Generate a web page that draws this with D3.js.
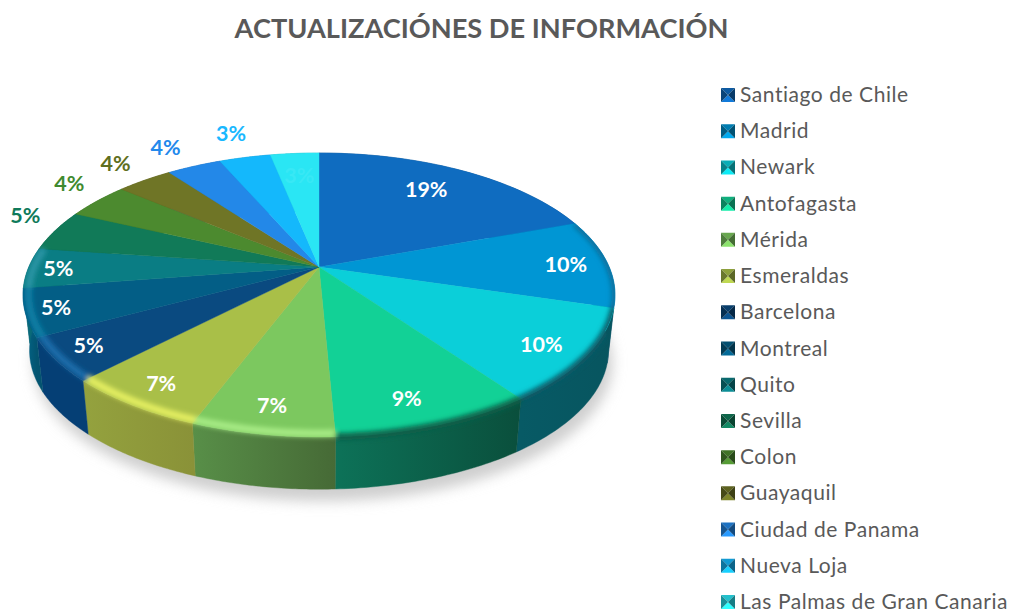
<!DOCTYPE html>
<html><head><meta charset="utf-8">
<script src="https://cdn.jsdelivr.net/npm/d3@7"></script>
<style>html,body{margin:0;background:#fff;overflow:hidden}svg{display:block}text{font-family:Lato,"Open Sans",sans-serif}</style>
</head><body><svg id="c" width="1011" height="613"></svg>
<script>
const titleText = "ACTUALIZACIÓNES DE INFORMACIÓN";
const categories = ["Santiago de Chile","Madrid","Newark","Antofagasta","Mérida","Esmeraldas","Barcelona","Montreal","Quito","Sevilla","Colon","Guayaquil","Ciudad de Panama","Nueva Loja","Las Palmas de Gran Canaria"];
const shares = [19.49,10.1,10.49,9.2,6.52,6.52,4.9,5.4,4.6,4.7,4.2,3.7,3.6,3.4,3.2];

const topColors = ["#0f6cc0","#0096d4","#0bcfd9","#12d196","#7cc85f","#a9bf48","#0a4a80","#035e86","#0a7d84","#117a58","#4c8a2f","#6f7526","#2388e8","#14b8fc","#2ae6f4"];
const wallLeft  = ["#0a4f8c","#0a5f8a","#075a65","#0d7258","#588f48","#94a23e","#053f75","#03688c","#0a6a78","#0d5f48","#3c6e25","#555a1c","#1a68b0","#0f8cc0","#20b0ba"];
const wallRight = ["#0a4f8c","#064a6e","#07555f","#0a4f3c","#466a36","#8a9238","#053f75","#035470","#0a6a78","#0d5f48","#3c6e25","#555a1c","#1a68b0","#0f8cc0","#20b0ba"];
const rimColors = [null,"#0a6f9c","#075a66","#0a5f48","#a8ec86","#e6f062","#1c6eac","#0c80a6","#2a95a5",null,null,null,null,null,null];
const rimInset = [1,1,1,1,0.982,0.982,0.982,0.982,0.982,1,1,1,1,1,1];
const labelColors = ["#fff","#fff","#fff","#fff","#fff","#fff","#fff","#fff","#fff","#0f7a5a","#3f8a2f","#5f6f20","#2389ec","#19b8ff","#38e8f5"];
const labelRadii = [0.767,0.855,0.856,0.846,0.853,0.865,0.88,0.9,0.897,1.17,1.205,1.22,1.24,1.275,0.78];
const labelNudgeDeg = [-2.2,0,1,1.7,0,0,1,0.5,0,4.3,3.2,0.8,-0.8,0.5,0];

const svg = d3.select("#c");
const defs = svg.append("defs");
defs.append("filter").attr("id","soft").attr("filterUnits","userSpaceOnUse").attr("x",0).attr("y",0).attr("width",1011).attr("height",613)
  .append("feGaussianBlur").attr("stdDeviation",6.5);
defs.append("filter").attr("id","rimBlur").attr("filterUnits","userSpaceOnUse").attr("x",0).attr("y",0).attr("width",1011).attr("height",613)
  .append("feGaussianBlur").attr("stdDeviation",2.6);

// perspective of the pie disc: apex sits above the ellipse centre
const tilt = 0.197;
const sx = d3.scaleLinear().domain([-1,1]).range([319-290.2,319+290.2]);
const sy = d3.scaleLinear().domain([-1,1]).range([267-136.5,267+136.5]);
const project = (a,r=1,inset=1,drop=0) => {
  const X = Math.sin(a)*r, Y = -Math.cos(a)*r, w = 1 - tilt*Y;
  return [sx(inset*X/w), sy(inset*Y/w)+drop];
};
const arcs = d3.pie().sort(null).value(d=>d)(shares);
const line = d3.line();
const total = d3.sum(shares);
const pct = d3.format(".0%");
const samples = d => d3.range(0,41).map(i => d.startAngle + (d.endAngle-d.startAngle)*i/40);
const DROP = 56, BOTTOM = 0.978;

// drop shadow
const full = d3.range(0,121).map(i=>i/120*2*Math.PI);
svg.append("path").attr("d", line(full.map(a=>{const p=project(a,1,BOTTOM,DROP+12);return [p[0]+4,p[1]];}))+"Z")
  .attr("fill","#cfcfcf").attr("filter","url(#soft)");

// side wall
arcs.forEach((d,i)=>{
  const pts = samples(d);
  const top = pts.map(a=>project(a));
  const bot = pts.map(a=>project(a,1,BOTTOM,DROP)).reverse();
  const xs = top.map(p=>p[0]);
  const g = defs.append("linearGradient").attr("id","w"+i).attr("gradientUnits","userSpaceOnUse")
    .attr("x1",d3.min(xs)).attr("x2",d3.max(xs)).attr("y1",0).attr("y2",0);
  g.append("stop").attr("offset",0).attr("stop-color",wallLeft[i]);
  g.append("stop").attr("offset",1).attr("stop-color",wallRight[i]);
  svg.append("path").attr("d",line(top.concat(bot))+"Z").attr("fill",`url(#w${i})`).attr("stroke",`url(#w${i})`).attr("stroke-width",0.4);
});

// top face
const slice = d => line([[sx(0),sy(0)]].concat(samples(d).map(a=>project(a))))+"Z";
svg.append("g").selectAll("path").data(arcs).join("path")
  .attr("d",slice).attr("fill",(d,i)=>topColors[i]).attr("stroke",(d,i)=>topColors[i]).attr("stroke-width",0.4);

// bevel along the rim, kept inside the silhouette
const sil = defs.append("clipPath").attr("id","sil");
sil.append("path").attr("d",line(full.map(a=>project(a)))+"Z");
sil.append("path").attr("d",line(full.map(a=>project(a,1,BOTTOM,DROP)))+"Z");
svg.append("g").attr("clip-path","url(#sil)").append("g").attr("filter","url(#rimBlur)")
  .selectAll("path").data(arcs.filter((d,i)=>rimColors[i])).join("path")
  .attr("d",d=>line(samples(d).map(a=>project(a,rimInset[d.index]))))
  .attr("fill","none").attr("stroke",d=>rimColors[d.index]).attr("stroke-width",7);

// data labels
const labelPoint = (d,i) => project((d.startAngle+d.endAngle)/2 + labelNudgeDeg[i]*Math.PI/180, labelRadii[i]);
svg.append("g").selectAll("text").data(arcs).join("text")
  .attr("x",(d,i)=>labelPoint(d,i)[0])
  .attr("y",(d,i)=>labelPoint(d,i)[1])
  .attr("text-anchor","middle").attr("dominant-baseline","central")
  .attr("font-size",21.5).attr("font-weight",700).attr("fill",(d,i)=>labelColors[i])
  .text(d=>pct(d.value/total));

// title
svg.append("text").attr("x",481.5).attr("y",38).attr("text-anchor","middle")
  .attr("font-size",27.2).attr("font-weight",700).attr("fill","#595959").text(titleText);

// legend
const ly = d3.scalePoint().domain(categories).range([95,602]);
const lg = svg.append("g").selectAll("g").data(categories).join("g")
  .attr("transform",d=>`translate(721,${ly(d)-7})`);
const S = 14, tri = [
  {p:[[0,0],[S,0],[S/2,S/2]], c:(i)=>d3.color(topColors[i]).darker(0.5)},
  {p:[[0,S],[S,S],[S/2,S/2]], c:(i)=>d3.color(topColors[i]).brighter(0.35)},
  {p:[[0,0],[0,S],[S/2,S/2]], c:(i)=>d3.color(topColors[i]).darker(1.3)},
  {p:[[S,0],[S,S],[S/2,S/2]], c:(i)=>d3.color(topColors[i]).darker(1.7)}
];
lg.each(function(d,i){
  const g = d3.select(this);
  tri.forEach(t=>g.append("path").attr("d",line(t.p)+"Z").attr("fill",t.c(i)));
});
lg.append("text").attr("x",19).attr("y",5.5).attr("dominant-baseline","central")
  .attr("font-size",21).attr("letter-spacing",0.55).attr("fill","#595959").text(d=>d);
</script></body></html>
